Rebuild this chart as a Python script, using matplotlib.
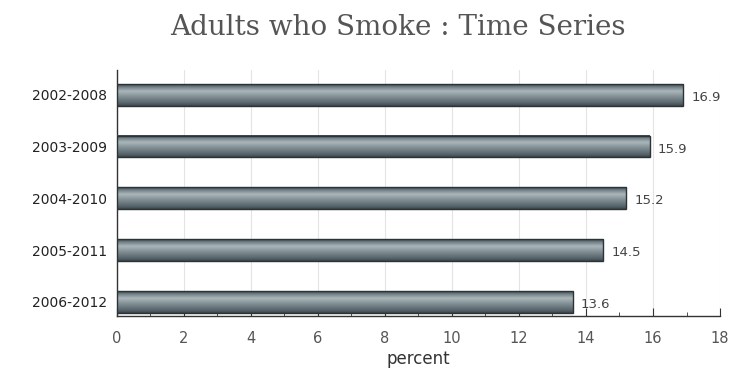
import matplotlib
matplotlib.use("Agg")
import matplotlib.pyplot as plt
import numpy as np
from matplotlib.ticker import MultipleLocator

periods = ["2002-2008", "2003-2009", "2004-2010", "2005-2011", "2006-2012"]
percent = [16.9, 15.9, 15.2, 14.5, 13.6]

fig = plt.figure(figsize=(7.34, 3.72), dpi=100)
ax = fig.add_axes([0.159, 0.151, 0.822, 0.661])

# vertical gradient for a cylinder look: dark top edge, light band, darker bottom
stops_t = [0.0, 0.12, 0.32, 0.6, 0.88, 1.0]
stops_c = ["#3b474c", "#6f7d82", "#aab6ba", "#7e8c91", "#56636a", "#3b474c"]
t = np.linspace(0, 1, 60)
rgb = np.array([matplotlib.colors.to_rgb(c) for c in stops_c])
grad = np.stack([np.interp(t, stops_t, rgb[:, k]) for k in range(3)], axis=-1)[:, None, :]

h = 0.42
for i, v in enumerate(percent):
    ax.imshow(grad, extent=[0, v, i + h / 2, i - h / 2], aspect="auto",
              interpolation="bilinear", zorder=3)
    ax.add_patch(plt.Rectangle((0, i - h / 2), v, h, fill=False,
                               edgecolor="#2b3336", lw=1.0, zorder=4))
    ax.text(v + 0.25, i + 0.05, f"{v}", va="center", ha="left",
            fontsize=9.5, color="#444444")

ax.set_xlim(0, 18)
ax.set_ylim(4.27, -0.48)
ax.set_yticks(range(len(periods)))
ax.set_yticklabels(periods, fontsize=10, color="#222222")
ax.xaxis.set_major_locator(MultipleLocator(2))
ax.xaxis.set_minor_locator(MultipleLocator(1))
ax.tick_params(axis="x", which="major", direction="in", length=6, labelsize=10.5,
               labelcolor="#555555", color="#333333", pad=11)
ax.tick_params(axis="x", which="minor", direction="in", length=3, color="#333333")
ax.tick_params(axis="y", length=0, pad=7)
ax.grid(axis="x", which="major", color="#e4e4e4", lw=0.8, zorder=0)
ax.set_axisbelow(True)
for s in ["top", "right"]:
    ax.spines[s].set_visible(False)
for s in ["left", "bottom"]:
    ax.spines[s].set_color("#333333")
    ax.spines[s].set_linewidth(1.0)

ax.set_xlabel("percent", fontsize=12, color="#333333", labelpad=3)
fig.text(0.542, 0.925, "Adults who Smoke : Time Series", ha="center", va="center",
         fontsize=20, family="DejaVu Serif", color="#555555")

fig.savefig("out.png", dpi=100)
